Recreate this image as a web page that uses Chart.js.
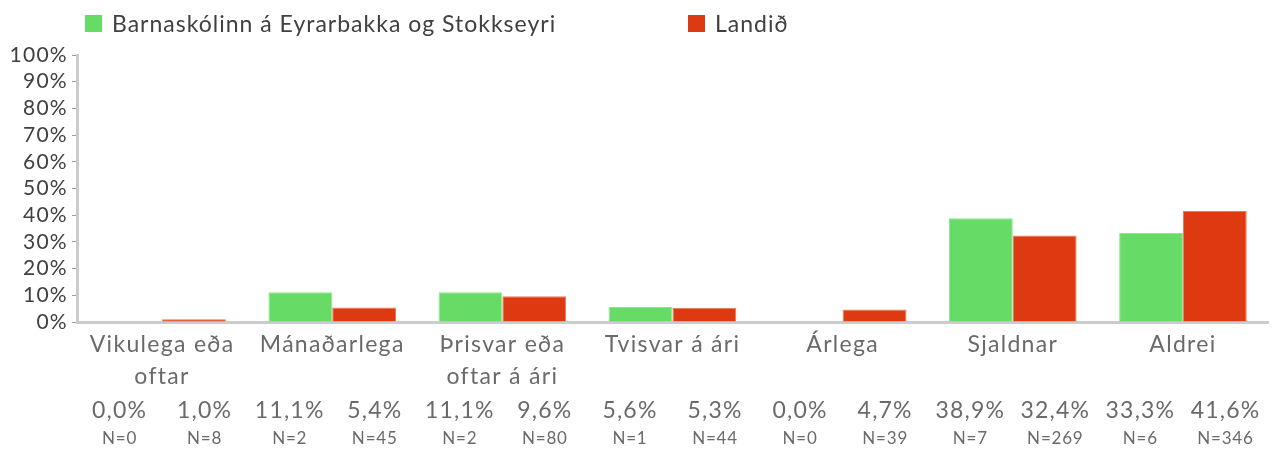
<!DOCTYPE html>
<html lang="is">
<head>
<meta charset="utf-8">
<title>Barnaskólinn á Eyrarbakka og Stokkseyri</title>
<script src="https://cdn.jsdelivr.net/npm/chart.js@4/dist/chart.umd.min.js"></script>
<style>
  body { margin: 0; background: #fff; font-family: Lato, "Noto Sans", sans-serif; }
  #wrap { position: relative; width: 1276px; height: 450px; }
  #legend { position: absolute; top: 9px; left: 85px; height: 30px; font-size: 23px; color: #404040; letter-spacing: 1px; }
  .item { position: absolute; top: 0; white-space: nowrap; display: flex; align-items: center; }
  .box { width: 17px; height: 17px; margin-right: 10px; }
</style>
</head>
<body>
<div id="wrap">
  <canvas id="chart" width="1276" height="450"></canvas>
  <div id="legend"></div>
</div>
<script>
const categories = [
  ["Vikulega eða", "oftar"],
  "Mánaðarlega",
  ["Þrisvar eða", "oftar á ári"],
  "Tvisvar á ári",
  "Árlega",
  "Sjaldnar",
  "Aldrei"
];
const seriesNames = ["Barnaskólinn á Eyrarbakka og Stokkseyri", "Landið"];
const schoolValues = [0.0, 11.1, 11.1, 5.6, 0.0, 38.9, 33.3];
const countryValues = [1.0, 5.4, 9.6, 5.3, 4.7, 32.4, 41.6];
const schoolN = [0, 2, 2, 1, 0, 7, 6];
const countryN = [8, 45, 80, 44, 39, 269, 346];
const yTicks = [0, 10, 20, 30, 40, 50, 60, 70, 80, 90, 100];

const colors = ["#66dc66", "#dd3a12"];
const borders = ["#8fe68f", "#e8785c"];
const fontFamily = "Lato, 'Noto Sans', sans-serif";

// legend drawn as html above the canvas
const legend = document.getElementById("legend");
const legendX = [0, 603];
seriesNames.forEach((name, i) => {
  const item = document.createElement("div");
  item.className = "item";
  item.style.left = legendX[i] + "px";
  item.innerHTML = '<span class="box" style="background:' + colors[i] + '"></span>' + name;
  legend.appendChild(item);
});

const fmt = (v) => v.toFixed(1).replace(".", ",") + "%";

// wider tracking for all canvas text
const spacingPlugin = {
  id: "spacing",
  beforeDraw(chart) {
    chart.ctx.letterSpacing = "1.3px";
  }
};

// percentage and N rows under the category labels
const tablePlugin = {
  id: "valueTable",
  afterDraw(chart) {
    const ctx = chart.ctx;
    const x = chart.scales.x;
    const half = (x.getPixelForValue(1) - x.getPixelForValue(0)) / 4;
    ctx.save();
    ctx.textAlign = "center";
    ctx.textBaseline = "middle";
    ctx.fillStyle = "#6a6a6a";
    categories.forEach((c, i) => {
      const cx = x.getPixelForValue(i);
      const cols = [cx - half, cx + half];
      const vals = [schoolValues[i], countryValues[i]];
      const ns = [schoolN[i], countryN[i]];
      cols.forEach((px, j) => {
        ctx.letterSpacing = "1.2px";
        ctx.font = "23px " + fontFamily;
        ctx.fillText(fmt(vals[j]), px, 411);
        ctx.letterSpacing = "0.8px";
        ctx.font = "17px " + fontFamily;
        ctx.fillText("N=" + ns[j], px, 439);
      });
    });
    ctx.restore();
  }
};

new Chart(document.getElementById("chart"), {
  type: "bar",
  data: {
    labels: categories,
    datasets: [
      {
        label: seriesNames[0],
        data: schoolValues,
        backgroundColor: colors[0],
        borderColor: borders[0],
        borderWidth: 1
      },
      {
        label: seriesNames[1],
        data: countryValues,
        backgroundColor: colors[1],
        borderColor: borders[1],
        borderWidth: 1
      }
    ]
  },
  options: {
    responsive: false,
    animation: false,
    categoryPercentage: 0.75,
    barPercentage: 1.0,
    layout: { padding: { top: 55, right: 8, left: 0, bottom: 0 } },
    plugins: { legend: { display: false }, tooltip: { enabled: false } },
    scales: {
      x: {
        afterFit: (s) => { s.height = 128; },
        grid: { display: true, drawOnChartArea: false, drawTicks: false },
        border: { color: "#cccccc", width: 3 },
        ticks: {
          color: "#6a6a6a",
          padding: 6,
          maxRotation: 0,
          autoSkip: false,
          font: { family: fontFamily, size: 23, lineHeight: 1.4 }
        }
      },
      y: {
        min: 0,
        max: 100,
        afterFit: (s) => { s.width = 77; },
        afterBuildTicks: (s) => { s.ticks = yTicks.map((v) => ({ value: v })); },
        grid: { drawOnChartArea: false, tickLength: 5, color: "#9a9a9a" },
        border: { color: "#cccccc", width: 3 },
        ticks: {
          color: "#404040",
          padding: 4,
          autoSkip: false,
          font: { family: fontFamily, size: 21 },
          callback: (v) => v + "%"
        }
      }
    }
  },
  plugins: [spacingPlugin, tablePlugin]
});
</script>
</body>
</html>
